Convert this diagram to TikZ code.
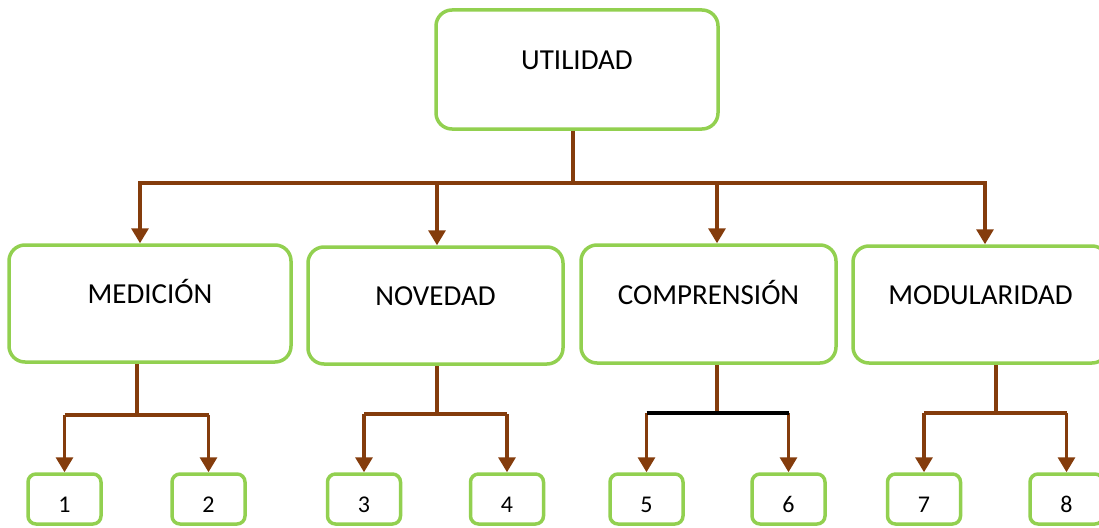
\documentclass[tikz,border=0pt]{standalone}
\usepackage{fontspec}
\setmainfont{Carlito}
\usetikzlibrary{arrows.meta}
\definecolor{boxgreen}{HTML}{92D050}
\definecolor{linebrown}{HTML}{843C0C}

\begin{document}
\begin{tikzpicture}[x=1pt, y=-1pt,
    bigbox/.style = {draw=boxgreen, line width=3.5pt, rounded corners=16pt,
        minimum width=#1, inner sep=0pt, text height=58pt, text depth=59pt,
        font=\fontsize{29}{33}\selectfont},
    bigbox/.default = 255pt,
    numbox/.style = {draw=boxgreen, line width=3.5pt, rounded corners=8pt,
        minimum width=73pt, inner sep=0pt, text height=38pt, text depth=12pt,
        font=\fontsize{24}{28}\selectfont},
    link/.style = {draw=linebrown, line width=3.3pt},
    arr/.style = {link, -{Triangle[width=17pt, length=15pt]}}]
    \clip (0, 0) rectangle (1099, 527);

    % top and second row
    \node[bigbox=282pt, text height=60pt] at (577, 69.5) (U) {UTILIDAD};
    \node[bigbox=282pt] at (150, 303.5) (M) {MEDICIÓN};
    \node[bigbox] at (435.5, 305.5) (N) {NOVEDAD};
    \node[bigbox, text height=59pt] at (708.5, 304) (C) {COMPRENSIÓN};
    \node[bigbox] at (980.5, 304.5) (D) {MODULARIDAD};

    % bottom row
    \node[numbox] at (64.5, 499) (n1) {1};
    \node[numbox] at (208.5, 499) (n2) {2};
    \node[numbox] at (364, 499) (n3) {3};
    \node[numbox] at (507, 499) (n4) {4};
    \node[numbox] at (646.5, 499) (n5) {5};
    \node[numbox] at (788.5, 499) (n6) {6};
    \node[numbox] at (924, 499) (n7) {7};
    \node[numbox] at (1066.5, 499) (n8) {8};

    % main branch
    \coordinate (j0) at (573, 183);
    \coordinate (jM) at (140, 183);
    \coordinate (jN) at (437, 183);
    \coordinate (jC) at (717, 183);
    \coordinate (jD) at (985, 183);
    \draw[link] (j0 |- U.south) -- (j0);
    \draw[link, line cap=rect] (jM) -- (jD);
    \foreach \j/\p in {jM/M, jN/N, jC/C, jD/D}
        \draw[arr] (\j) -- (\j |- \p.north);

    % sub branches
    \foreach \p/\x/\y/\a/\b in {M/137/415/n1/n2, N/437/414/n3/n4, C/717/413/n5/n6, D/996/413/n7/n8} {
        \coordinate (s\p) at (\x, \y);
        \draw[link] (s\p |- \p.south) -- (s\p);
        \draw[arr] (s\p -| \a.north) -- (\a.north);
        \draw[arr] (s\p -| \b.north) -- (\b.north);
    }
    \draw[link] (sM -| n1.north) -- (sM -| n2.north);
    \draw[link] (sN -| n3.north) -- (sN -| n4.north);
    \draw[line width=3.3pt] (sC -| n5.north) -- (sC -| n6.north);
    \draw[link] (sD -| n7.north) -- (sD -| n8.north);
\end{tikzpicture}
\end{document}
